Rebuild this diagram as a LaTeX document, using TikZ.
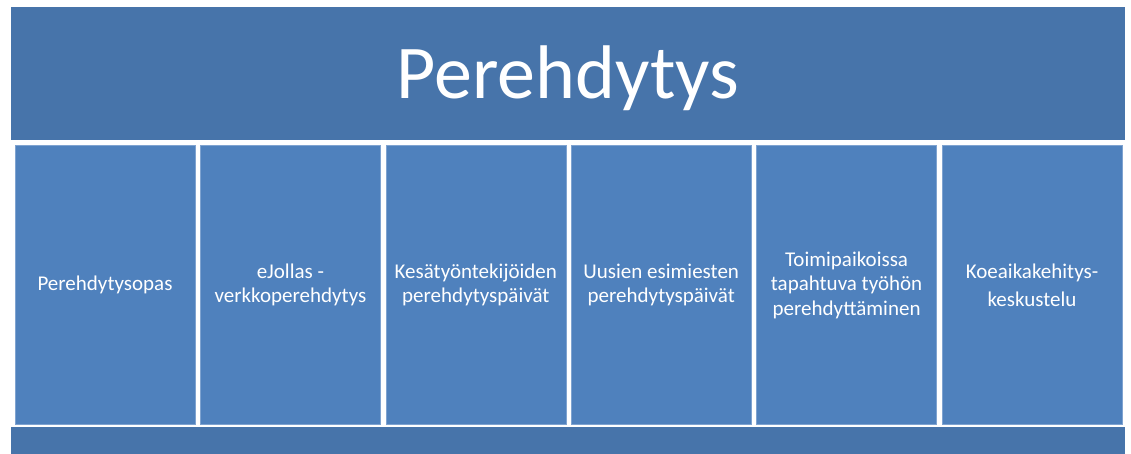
\documentclass[tikz,border=0pt]{standalone}
\usepackage{fontspec}
\setmainfont{Carlito}
\definecolor{bannerblue}{HTML}{4774AA}
\definecolor{boxblue}{HTML}{4F81BD}
\definecolor{boxedge}{HTML}{7FA3D0}
\begin{document}
\begin{tikzpicture}[x=1pt,y=-1pt,
  banner/.style={fill=bannerblue,draw=none},
  topicbox/.style={fill=boxblue,draw=boxedge,line width=0.6pt},
  topictext/.style={text=white,align=center,font=\fontsize{21}{24.5}\selectfont,inner sep=0pt}]
  \useasboundingbox (0,0) rectangle (1131,454);
  \fill[white] (0,0) rectangle (1131,454);
  % title banner and bottom strip
  \path[banner] (11,7) rectangle (1125,140);
  \path[banner] (11,427) rectangle (1125,454);
  \node[text=white,font=\fontsize{76}{82}\selectfont,inner sep=0pt] (title) at (568,78) {\vphantom{P}Perehdytys};
  % six topic columns
  \foreach \i in {0,...,5} {
    \path[topicbox] ({15+\i*185.4},145) rectangle ({195+\i*185.4},424);
    \coordinate (c\i) at ({105+\i*185.4},285);
  }
  \node[topictext] (t0) at (c0) {Perehdytysopas};
  \node[topictext] (t1) at (c1) {eJollas -\\verkkoperehdytys};
  \node[topictext] (t2) at (c2) {Kesätyöntekijöiden\\perehdytyspäivät};
  \node[topictext] (t3) at (c3) {Uusien esimiesten\\perehdytyspäivät};
  \node[topictext] (t4) at (c4) {Toimipaikoissa\\tapahtuva työhön\\perehdyttäminen};
  \node[topictext] (t5) at (c5) {Koeaikakehitys-\\[3.5pt]keskustelu};
\end{tikzpicture}
\end{document}
